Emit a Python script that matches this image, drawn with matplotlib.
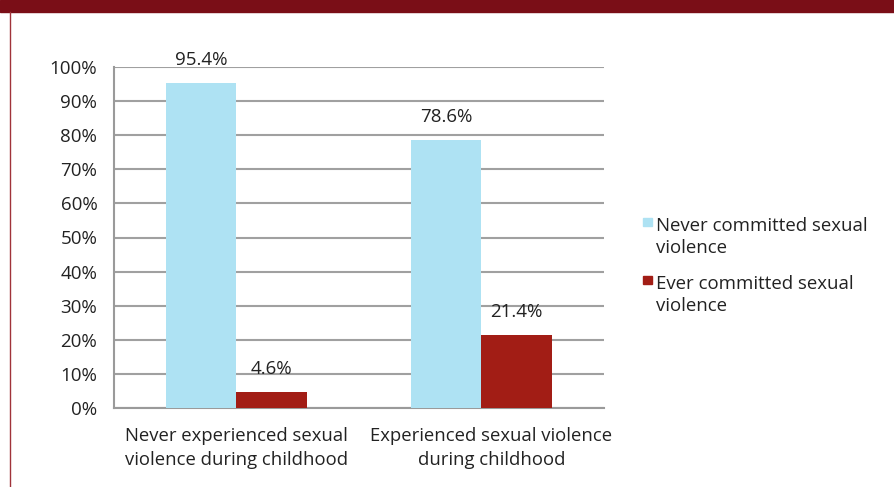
import numpy as np
import matplotlib.pyplot as plt
import matplotlib.transforms as mtransforms
from matplotlib.patches import Rectangle
from matplotlib.lines import Line2D

plt.rcParams['font.family'] = ['Open Sans', 'DejaVu Sans']

categories = ["Never experienced sexual\nviolence during childhood",
              "Experienced sexual violence\nduring childhood"]
series_names = ["Never committed sexual\nviolence", "Ever committed sexual\nviolence"]
never_committed = [95.4, 78.6]
ever_committed = [4.6, 21.4]
colors = ["#aee2f3", "#a21d15"]

fig = plt.figure(figsize=(8.95, 4.87), dpi=100)
ax = fig.add_axes([114 / 895, 1 - 408 / 487, 490 / 895, 341 / 487])

x = np.arange(len(categories))
w = 0.286
b1 = ax.bar(x - w / 2, never_committed, w, color=colors[0], zorder=3)
b2 = ax.bar(x + w / 2, ever_committed, w, color=colors[1], zorder=3)

for bars, vals in [(b1, never_committed), (b2, ever_committed)]:
    for r, v in zip(bars, vals):
        ax.annotate(f"{v:.1f}%", (r.get_x() + r.get_width() / 2, v),
                    xytext=(0, 10), textcoords="offset points",
                    ha="center", va="bottom", fontsize=13.5, color="#222222")

ax.set_xlim(-0.5, 1.5)
ax.set_ylim(0, 100)
ax.set_yticks(np.arange(0, 101, 10))
ax.set_yticklabels([f"{t}%" for t in range(0, 101, 10)], fontsize=13.5, color="#222222")
ax.set_xticks(x)
ax.set_xticklabels(categories, fontsize=13.3, color="#222222", linespacing=1.4)
ax.tick_params(axis="y", length=0, pad=12)
ax.tick_params(axis="x", length=0, pad=14)
# the second category label sits a little right of its group, as in the source
lab = ax.get_xticklabels()[1]
lab.set_transform(lab.get_transform() + mtransforms.ScaledTranslation(0.1, 0, fig.dpi_scale_trans))
ax.grid(axis="y", color="#a0a0a0", linewidth=1.5, zorder=0)
for s in ["top", "right"]:
    ax.spines[s].set_visible(False)
for s in ["left", "bottom"]:
    ax.spines[s].set_color("#9a9a9a")
    ax.spines[s].set_linewidth(1.5)

# legend, square aligned with the first line of each label
leg_tops = [214, 272]
for name, c, top in zip(series_names, colors, leg_tops):
    fig.patches.append(Rectangle((643 / 895, 1 - (top + 12) / 487), 9 / 895, 8 / 487,
                                 transform=fig.transFigure, color=c))
    fig.text(656 / 895, 1 - (top + 3) / 487, name, ha="left", va="top", fontsize=13.4,
             color="#222222", linespacing=1.3)

# header band and left border
fig.patches.append(Rectangle((0, 1 - 12 / 487), 1, 12 / 487, transform=fig.transFigure,
                             color="#7a0e17", zorder=0))
fig.lines.append(Line2D([10.5 / 895, 10.5 / 895], [0, 1 - 12 / 487], transform=fig.transFigure,
                        color="#a0333a", linewidth=1))

fig.savefig("out.png", dpi=100)
